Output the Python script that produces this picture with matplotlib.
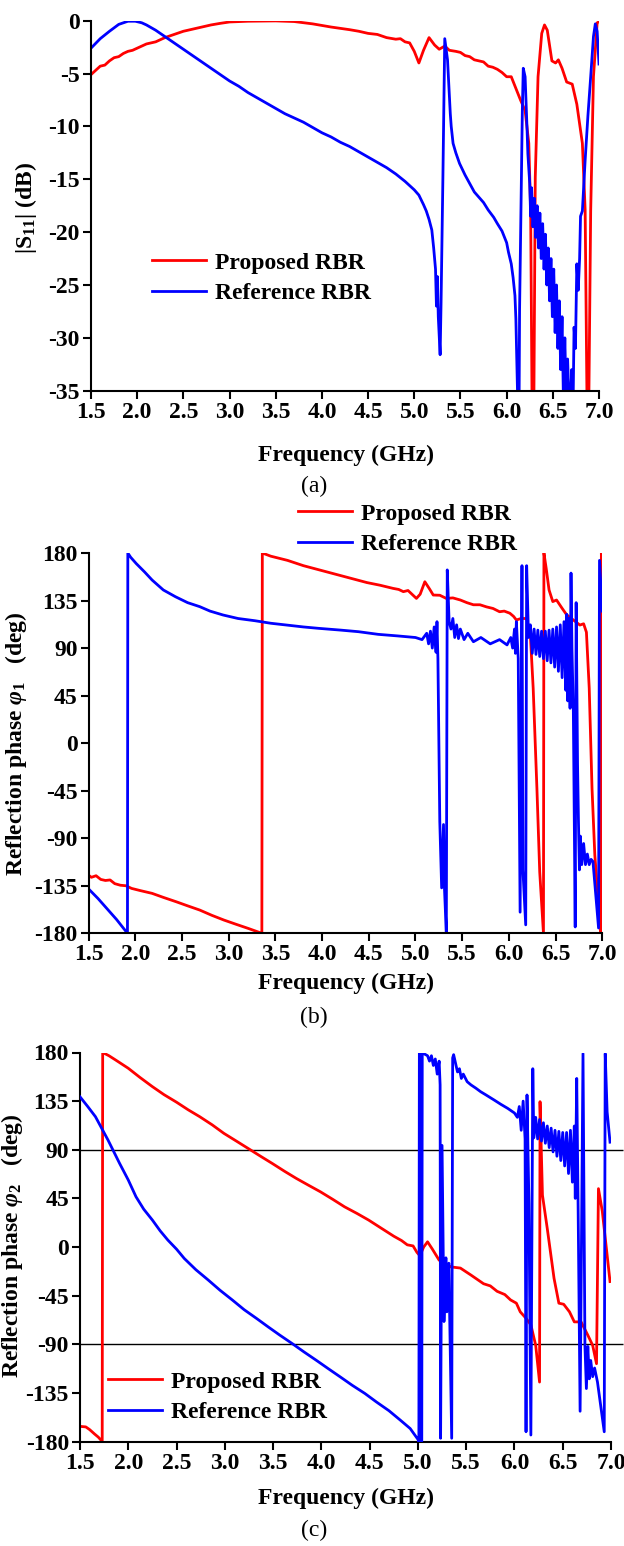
import numpy as np
import matplotlib
matplotlib.use('Agg')
import matplotlib.pyplot as plt

plt.rcParams['font.family'] = ['Liberation Serif', 'DejaVu Serif']
plt.rcParams['font.weight'] = 'bold'
plt.rcParams['axes.unicode_minus'] = False
plt.rcParams['mathtext.fontset'] = 'custom'
plt.rcParams['mathtext.rm'] = 'Liberation Serif:bold'
plt.rcParams['mathtext.bf'] = 'Liberation Serif:bold'
plt.rcParams['mathtext.it'] = 'Liberation Serif:italic:bold'

# ---------------- data ----------------
# (a) |S11| in dB
s11_prop_f = [1.50, 1.55, 1.60, 1.65, 1.70, 1.75, 1.80, 1.85, 1.90, 1.95, 2.00, 2.10, 2.20, 2.30,
              2.40, 2.50, 2.60, 2.70, 2.80, 2.90, 3.00, 3.20, 3.50, 3.70, 3.90, 4.10, 4.30, 4.40,
              4.50, 4.60, 4.70, 4.80, 4.85, 4.90, 4.95, 5.00, 5.05, 5.10, 5.16, 5.22, 5.27, 5.33,
              5.38, 5.45, 5.50, 5.55, 5.60, 5.65, 5.70, 5.75, 5.80, 5.85, 5.90, 5.95, 6.00, 6.05,
              6.10, 6.15, 6.20, 6.24, 6.26, 6.275, 6.295, 6.31, 6.34, 6.38, 6.41, 6.44, 6.49, 6.53,
              6.56, 6.60, 6.65, 6.71, 6.76, 6.82, 6.85, 6.87, 6.89, 6.91, 6.94, 6.98, 7.00]
s11_prop = [-5.1, -4.7, -4.3, -4.2, -3.8, -3.5, -3.4, -3.1, -2.9, -2.8, -2.6, -2.2, -2.0, -1.6,
            -1.3, -1.0, -0.8, -0.6, -0.4, -0.25, -0.12, -0.05, -0.02, -0.08, -0.3, -0.6, -0.85, -1.0,
            -1.2, -1.3, -1.6, -1.75, -1.7, -2.0, -2.1, -2.9, -4.0, -2.8, -1.6, -2.3, -2.7, -2.4,
            -2.8, -2.9, -3.0, -3.3, -3.4, -3.7, -3.8, -3.9, -4.3, -4.4, -4.6, -4.9, -5.3, -5.3,
            -6.4, -7.5, -8.5, -11.6, -18.0, -36.0, -36.0, -14.8, -5.3, -1.2, -0.4, -0.9, -3.8, -4.0,
            -3.7, -4.5, -5.8, -6.0, -7.9, -11.6, -17.9, -36.0, -36.0, -18.0, -5.3, -0.2, -0.1]

s11_ref_f = [1.50, 1.60, 1.70, 1.80, 1.90, 1.98, 2.05, 2.10, 2.20, 2.30, 2.40, 2.50, 2.60, 2.70,
             2.80, 2.90, 3.00, 3.10, 3.20, 3.30, 3.40, 3.50, 3.60, 3.70, 3.80, 3.90, 4.00, 4.10,
             4.20, 4.30, 4.40, 4.50, 4.60, 4.70, 4.80, 4.90, 5.00, 5.05, 5.10, 5.13, 5.16, 5.19,
             5.21, 5.23, 5.24, 5.25, 5.26, 5.28, 5.29, 5.31, 5.33, 5.36, 5.39, 5.40, 5.42, 5.45,
             5.49, 5.55, 5.60, 5.65, 5.70, 5.75, 5.80, 5.86, 5.90, 5.95, 6.00, 6.02, 6.05, 6.07,
             6.09, 6.10, 6.12, 6.135, 6.14, 6.17, 6.18, 6.20, 6.22, 6.23, 6.25,
             6.26, 6.27, 6.285, 6.30, 6.315, 6.33, 6.345, 6.36, 6.375, 6.39, 6.405, 6.42, 6.435,
             6.45, 6.465, 6.48, 6.495, 6.51, 6.525, 6.54, 6.555, 6.57, 6.585, 6.60, 6.615, 6.63,
             6.645, 6.66, 6.675, 6.69, 6.705, 6.72, 6.73, 6.745, 6.76, 6.775, 6.79, 6.80, 6.82,
             6.85, 6.88, 6.91, 6.94, 6.96, 6.98, 7.00]
s11_ref = [-2.6, -1.7, -1.0, -0.35, -0.05, -0.05, -0.2, -0.4, -0.9, -1.5, -2.1, -2.7, -3.3, -3.9,
           -4.5, -5.1, -5.7, -6.2, -6.8, -7.3, -7.8, -8.3, -8.8, -9.2, -9.6, -10.1, -10.6, -11.0,
           -11.5, -11.9, -12.4, -12.9, -13.4, -13.9, -14.5, -15.2, -16.0, -16.5, -17.4, -18.0, -18.8, -19.8,
           -21.5, -23.5, -27.0, -24.2, -28.0, -31.6, -26.7, -14.8, -1.7, -3.7, -8.8, -10.0, -11.6, -12.5,
           -13.5, -14.6, -15.4, -16.2, -16.7, -17.2, -17.9, -18.6, -19.2, -19.9, -21.0, -21.9, -23.0, -24.3,
           -26.0, -28.2, -36.0, -36.0, -27.4, -8.5, -4.5, -5.3, -10.0, -12.6, -15.4,
           -18.5, -15.8, -19.5, -16.8, -20.5, -17.5, -21.5, -18.2, -22.5, -19.2, -23.5, -20.2, -25.0,
           -21.5, -26.5, -22.5, -28.0, -23.5, -29.5, -25.0, -31.0, -26.5, -33.0, -28.0, -36.0, -30.0,
           -36.0, -32.0, -36.0, -36.0, -33.0, -36.0, -29.0, -31.0, -23.0, -25.5, -22.5, -18.5, -18.0,
           -13.2, -9.0, -5.3, -1.5, -0.3, -1.0, -4.1]

# (b) reflection phase phi1 in deg
ph1_prop_f = [1.50, 1.53, 1.58, 1.63, 1.68, 1.73, 1.78, 1.84, 1.90, 1.96, 2.05, 2.18, 2.30, 2.44,
              2.56, 2.69, 2.82, 2.95, 3.08, 3.21, 3.355, 3.36, 3.45, 3.63, 3.80, 3.97, 4.14, 4.31,
              4.48, 4.62, 4.76, 4.82, 4.87, 4.92, 5.01, 5.05, 5.10, 5.15, 5.19, 5.26, 5.33, 5.40,
              5.48, 5.55, 5.62, 5.69, 5.76, 5.83, 5.90, 5.95, 6.01, 6.05, 6.08, 6.13, 6.19, 6.23,
              6.26, 6.30, 6.33, 6.37, 6.375, 6.40, 6.43, 6.47, 6.51, 6.57, 6.62, 6.69, 6.76, 6.80,
              6.83, 6.86, 6.89, 6.92, 6.96, 6.985, 6.99, 7.00]
ph1_prop = [-125, -127, -125.5, -129, -130, -129.5, -133, -134.5, -135, -137.5, -139.5, -142.2, -146, -150.2,
            -154, -158, -163, -167.5, -171.5, -175.4, -180, 180, 177, 173, 168, 164, 160, 156,
            152, 149.5, 146.5, 145.5, 143.4, 144.5, 137, 141, 152.8, 146, 140.2, 140, 137, 137.5,
            135.5, 133, 131, 131, 129, 127.5, 124.4, 125, 123, 120, 116.6, 118, 118, 102,
            52, -43, -122, -180, 180, 165, 145, 134, 135.5, 127.6, 121.3, 116.6, 111.8, 113,
            105, 52, -43, -106, -153, -180, 180, 125]

ph1_ref_f = [1.50, 1.60, 1.70, 1.80, 1.916, 1.92, 1.95, 2.01, 2.10, 2.18, 2.30, 2.43, 2.56, 2.69,
             2.80, 2.94, 3.10, 3.28, 3.45, 3.62, 3.80, 3.96, 4.20, 4.39, 4.60, 4.81, 5.00, 5.07,
             5.12, 5.14, 5.16, 5.18, 5.20, 5.22, 5.23, 5.24, 5.26, 5.28, 5.30, 5.31, 5.33, 5.34,
             5.36, 5.38, 5.40, 5.42, 5.44, 5.46, 5.48, 5.52, 5.56, 5.62, 5.70, 5.80, 5.90, 5.98,
             6.02, 6.04, 6.06, 6.07, 6.08, 6.10, 6.12, 6.14, 6.15, 6.18, 6.19, 6.21,
             6.23, 6.25, 6.27, 6.29, 6.31, 6.33, 6.35, 6.37, 6.39, 6.41, 6.43, 6.45, 6.47, 6.49,
             6.51, 6.53, 6.55, 6.57, 6.59, 6.61, 6.62, 6.63, 6.645, 6.655, 6.665, 6.675, 6.69, 6.71,
             6.72, 6.735, 6.745, 6.755, 6.765, 6.78, 6.80, 6.82, 6.84, 6.86, 6.88, 6.90, 6.96, 6.97,
             7.00]
ph1_ref = [-138, -147, -157, -167, -180, 180, 176, 170, 162, 154.4, 145, 138.6, 133, 129.2,
           125, 121.3, 118, 115.9, 113.5, 111.8, 110, 108.7, 107, 105.5, 103, 101.5, 100, 98,
           104, 94, 106, 90, 110, 86, 115, 80, -74, -137, -77, -137, -180, 164,
           115, 108, 118, 100, 112, 99, 108, 98, 104, 96, 100, 94, 98, 93,
           100, 90, 108, 85, 115, 80, -160, 168, -120, -172, 168, 100,
           112, 85, 108, 84, 107, 82, 106, 80, 106, 78, 107, 76, 108, 72,
           110, 68, 112, 62, 115, 50, 122, 40, 118, 33, 161, 90, 30, -174,
           133, -20, -75, -120, -88, -115, -95, -115, -105, -115, -110, -112, -175, 173,
           125]

# (c) reflection phase phi2 in deg
ph2_prop_f = [1.50, 1.56, 1.60, 1.65, 1.69, 1.73, 1.735, 1.80, 1.87, 2.00, 2.12, 2.25, 2.37, 2.50,
              2.62, 2.74, 2.87, 2.99, 3.12, 3.24, 3.37, 3.49, 3.62, 3.74, 3.87, 3.99, 4.12, 4.24,
              4.37, 4.49, 4.61, 4.75, 4.83, 4.89, 4.95, 4.99, 5.02, 5.06, 5.10, 5.15, 5.22, 5.28,
              5.34, 5.44, 5.55, 5.68, 5.75, 5.82, 5.90, 5.96, 6.02, 6.06, 6.12, 6.17, 6.22, 6.26,
              6.265, 6.29, 6.34, 6.41, 6.46, 6.51, 6.57, 6.62, 6.69, 6.76, 6.81, 6.85, 6.87, 6.91,
              6.99]
ph2_prop = [-166, -166.5, -169, -173, -176, -180, 180, 177, 173, 165.4, 157, 148.4, 141, 134,
            127, 120.6, 113, 105.2, 98, 91.3, 84, 77.4, 70, 63.5, 57, 51.1, 44, 37.2,
            31, 24.9, 18, 10, 6, 2, 1, -5, -8, 0, 4.8, -2, -12.2, -15,
            -18.4, -19.5, -26, -34, -36, -41, -44, -49, -52, -60, -66, -72, -91, -125,
            134.5, 48, 17, -29, -52, -53, -60, -69.3, -69.3, -81.6, -91, -108, 54, 33,
            -32]

ph2_ref_f = [1.50, 1.58, 1.66, 1.79, 1.91, 2.00, 2.08, 2.16, 2.25, 2.33, 2.41, 2.50, 2.58, 2.70,
             2.83, 2.95, 3.08, 3.20, 3.33, 3.45, 3.57, 3.70, 3.82, 3.95, 4.07, 4.20, 4.32, 4.45,
             4.57, 4.70, 4.82, 4.92, 5.00, 5.01, 5.015, 5.025, 5.03, 5.04, 5.045, 5.06, 5.10, 5.12,
             5.14, 5.16, 5.18, 5.20, 5.22, 5.23, 5.235, 5.25, 5.27, 5.29, 5.30, 5.32, 5.35, 5.36,
             5.37, 5.41, 5.43, 5.45, 5.47, 5.51, 5.55, 5.60, 5.65, 5.70, 5.79, 5.86, 5.93, 6.00,
             6.03, 6.05, 6.07, 6.09, 6.11, 6.12, 6.13, 6.15, 6.17, 6.19, 6.20,
             6.22, 6.24, 6.26, 6.28, 6.30, 6.32, 6.34, 6.36, 6.38, 6.40, 6.42, 6.44, 6.46, 6.48,
             6.50, 6.52, 6.54, 6.56, 6.58, 6.60, 6.62, 6.63, 6.645, 6.66, 6.68, 6.71, 6.73, 6.745,
             6.76, 6.775, 6.79, 6.81, 6.83, 6.86, 6.93, 6.94, 6.96, 6.99]
ph2_ref = [139, 130, 120.6, 99, 77.4, 62, 46.5, 35, 24.9, 15, 6.4, -2, -10.6, -21,
           -30.7, -40, -49.2, -58, -66.2, -74, -81.6, -89.5, -97.1, -105, -112.5, -120.5, -128, -135.5,
           -143.4, -151.5, -160.4, -168, -178, -180, 180, 180, -180, -180, 180, 179, 177, 172,
           177, 168, 174, 160, 172, 150, -177, 94, -69, -10, -60, -15, -177, 175,
           178, 162, 165, 156, 160, 153, 150, 147, 143.7, 141, 136, 132, 128.3, 124,
           120, 130, 108, 135, 100, -171, 140.7, 40, -174, 165, 101,
           120, 100, 118, 98, 115, 96, 112, 92, 110, 88, 108, 84, 107, 80,
           106, 75, 106, 68, 108, 60, 112, 45, 156, 32, -152, 179, -91, -131,
           -92, -122, -105, -120, -112, -125, -171, 179, 125, 97]

ref_levels = [90, -90]

freq_ticks = np.arange(1.5, 7.01, 0.5)
s11_ticks = [0, -5, -10, -15, -20, -25, -30, -35]
phase_ticks = [180, 135, 90, 45, 0, -45, -90, -135, -180]

# ---------------- layout ----------------
W, H = 624, 1546
fig = plt.figure(figsize=(W / 100, H / 100), dpi=100)


def px_rect(l, t, r, b):
    return [l / W, 1 - b / H, (r - l) / W, (b - t) / H]


def fx(x):
    return x / W


def fy(y):
    return 1 - y / H


red = '#ff0000'
blue = '#0000ff'
lw = 2.0
fs = 17


def style(ax, yticks, ylim):
    ax.set_xlim(1.5, 7.0)
    ax.set_ylim(*ylim)
    ax.set_xticks(freq_ticks)
    ax.set_xticklabels(['%.1f' % v for v in freq_ticks])
    ax.set_yticks(yticks)
    ax.set_yticklabels([str(v) for v in yticks])
    for s in ['top', 'right']:
        ax.spines[s].set_visible(False)
    for s in ['left', 'bottom']:
        ax.spines[s].set_linewidth(1.5)
    ax.tick_params(direction='out', length=5.5, width=1.5, labelsize=fs, pad=2.5)
    for lab in ax.get_xticklabels() + ax.get_yticklabels():
        lab.set_fontweight('bold')


def add_legend(ax, x, y):
    ax.legend(loc='center left', bbox_to_anchor=(fx(x), fy(y)), bbox_transform=fig.transFigure,
              frameon=False, fontsize=fs, handlelength=2.3, handletextpad=0.35, labelspacing=0.38,
              borderpad=0, borderaxespad=0)


# (a)
ax1 = fig.add_axes(px_rect(91, 20.7, 599, 390.7))
ax1.plot(s11_prop_f, s11_prop, color=red, lw=lw, label='Proposed RBR')
ax1.plot(s11_ref_f, s11_ref, color=blue, lw=lw, label='Reference RBR')
style(ax1, s11_ticks, (-35, 0))
add_legend(ax1, 152, 278)
fig.text(fx(26), fy(208), '|S$_{11}$| (dB)', rotation=90, ha='center', va='center',
         fontsize=fs, fontweight='bold')
fig.text(fx(346), fy(455), 'Frequency (GHz)', ha='center', va='center', fontsize=fs, fontweight='bold')
fig.text(fx(314), fy(486), '(a)', ha='center', va='center', fontsize=fs, fontweight='normal')

# (b)
ax2 = fig.add_axes(px_rect(88.6, 553, 602.3, 933.3))
ax2.plot(ph1_prop_f, ph1_prop, color=red, lw=lw, label='Proposed RBR')
ax2.plot(ph1_ref_f, ph1_ref, color=blue, lw=lw, label='Reference RBR')
style(ax2, phase_ticks, (-180, 180))
add_legend(ax2, 298, 529)
fig.text(fx(16), fy(744), r'Reflection phase $\varphi_1$   (deg)', rotation=90, ha='center',
         va='center', fontsize=fs, fontweight='bold')
fig.text(fx(346), fy(983), 'Frequency (GHz)', ha='center', va='center', fontsize=fs, fontweight='bold')
fig.text(fx(314), fy(1017), '(b)', ha='center', va='center', fontsize=fs, fontweight='normal')

# (c)
ax3 = fig.add_axes(px_rect(80, 1052.5, 611, 1441.5))
ax3.hlines(ref_levels, 1.5, 7.12, colors='black', lw=1.0, clip_on=False, zorder=1)
ax3.plot(ph2_prop_f, ph2_prop, color=red, lw=lw, label='Proposed RBR', zorder=2)
ax3.plot(ph2_ref_f, ph2_ref, color=blue, lw=lw, label='Reference RBR', zorder=3)
style(ax3, phase_ticks, (-180, 180))
add_legend(ax3, 108, 1397)
fig.text(fx(12), fy(1246), r'Reflection phase $\varphi_2$   (deg)', rotation=90, ha='center',
         va='center', fontsize=fs, fontweight='bold')
fig.text(fx(346), fy(1498), 'Frequency (GHz)', ha='center', va='center', fontsize=fs, fontweight='bold')
fig.text(fx(314), fy(1530), '(c)', ha='center', va='center', fontsize=fs, fontweight='normal')

fig.savefig('out.png', dpi=100)
